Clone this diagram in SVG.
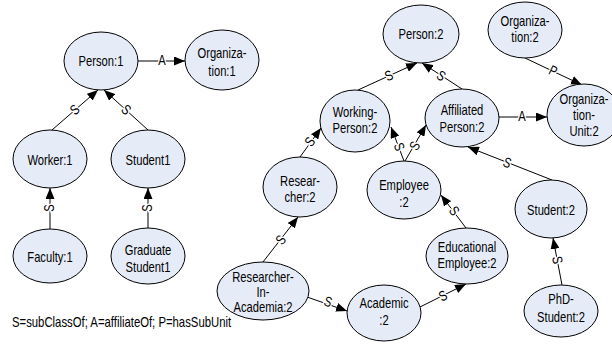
<svg xmlns="http://www.w3.org/2000/svg" width="612" height="345" viewBox="0 0 612 345">
<defs>
<marker id="arr" markerUnits="userSpaceOnUse" markerWidth="11" markerHeight="9" refX="11" refY="4.5" orient="auto"><path d="M0,0 L11,4.5 L0,9 z" fill="#000"/></marker>
<style>
.n ellipse{fill:#E6ECF7;stroke:#000;stroke-width:1}
.t{font-family:"Liberation Sans",Arial,sans-serif;font-size:14px;text-anchor:middle;fill:#000}
.e line{stroke:#000;stroke-width:1;marker-end:url(#arr)}
.l{font-family:"Liberation Sans",Arial,sans-serif;font-size:14px;text-anchor:middle;fill:#000;stroke:#fff;stroke-width:3;paint-order:stroke;dominant-baseline:central}
</style>
</defs>
<rect width="612" height="345" fill="#fff"/>
<g id="connectors" class="e">
<line x1="138" y1="61" x2="185" y2="61"/>
<line x1="52" y1="130" x2="98" y2="90"/>
<line x1="148" y1="130" x2="104" y2="90"/>
<line x1="50" y1="229" x2="50" y2="188"/>
<line x1="148" y1="228" x2="148" y2="188"/>
<line x1="358" y1="90" x2="417" y2="63"/>
<line x1="462" y1="89" x2="422" y2="63"/>
<line x1="525" y1="58" x2="582" y2="85"/>
<line x1="499" y1="117" x2="547" y2="117"/>
<line x1="404" y1="161" x2="391" y2="127"/>
<line x1="405" y1="161" x2="426" y2="125"/>
<line x1="300" y1="157" x2="321" y2="128"/>
<line x1="263" y1="262" x2="298" y2="217"/>
<line x1="307" y1="297" x2="347" y2="311"/>
<line x1="420" y1="307" x2="466" y2="284"/>
<line x1="466" y1="228" x2="441" y2="195"/>
<line x1="552" y1="180" x2="468" y2="147"/>
<line x1="562" y1="285" x2="553" y2="238"/>
<g id="connector-labels">
<text class="l" transform="translate(162,61) scale(0.8,1)">A</text>
<text class="l" transform="translate(75,110) rotate(-41) scale(0.8,1)">S</text>
<text class="l" transform="translate(126,110) rotate(42) scale(0.8,1)">S</text>
<text class="l" transform="translate(50,208) rotate(-90) scale(0.8,1)">S</text>
<text class="l" transform="translate(148,208) rotate(-90) scale(0.8,1)">S</text>
<text class="l" transform="translate(389,76) rotate(-25) scale(0.8,1)">S</text>
<text class="l" transform="translate(441,76) rotate(33) scale(0.8,1)">S</text>
<text class="l" transform="translate(553,71) rotate(25) scale(0.8,1)">P</text>
<text class="l" transform="translate(522,117) scale(0.8,1)">A</text>
<text class="l" transform="translate(399,147) rotate(69) scale(0.8,1)">S</text>
<text class="l" transform="translate(415,146) rotate(-60) scale(0.8,1)">S</text>
<text class="l" transform="translate(310,142) rotate(-54) scale(0.8,1)">S</text>
<text class="l" transform="translate(281,240) rotate(-52) scale(0.8,1)">S</text>
<text class="l" transform="translate(328,302) rotate(19) scale(0.8,1)">S</text>
<text class="l" transform="translate(443,296) rotate(-27) scale(0.8,1)">S</text>
<text class="l" transform="translate(454,211) rotate(53) scale(0.8,1)">S</text>
<text class="l" transform="translate(507,163) rotate(22) scale(0.8,1)">S</text>
<text class="l" transform="translate(557,260) rotate(79) scale(0.8,1)">S</text>
</g>
</g>
<g id="person1" class="n"><ellipse cx="101" cy="61" rx="37" ry="29"/><text class="t" transform="translate(101,66) scale(0.8,1)">Person:1</text></g>
<g id="organization1" class="n"><ellipse cx="222" cy="60" rx="37" ry="30"/><text class="t" transform="translate(222,58) scale(0.8,1)"><tspan x="0" y="0">Organiza-</tspan><tspan x="0" y="18">tion:1</tspan></text></g>
<g id="worker1" class="n"><ellipse cx="50" cy="159" rx="37" ry="29"/><text class="t" transform="translate(50,164.5) scale(0.8,1)">Worker:1</text></g>
<g id="student1" class="n"><ellipse cx="148" cy="159" rx="37" ry="29"/><text class="t" transform="translate(148,164.5) scale(0.8,1)">Student1</text></g>
<g id="faculty1" class="n"><ellipse cx="50" cy="256" rx="37" ry="27"/><text class="t" transform="translate(50,261.5) scale(0.8,1)">Faculty:1</text></g>
<g id="graduatestudent1" class="n"><ellipse cx="148" cy="256" rx="37" ry="28"/><text class="t" transform="translate(148,255) scale(0.8,1)"><tspan x="0" y="0">Graduate</tspan><tspan x="0" y="17">Student1</tspan></text></g>
<g id="person2" class="n"><ellipse cx="421" cy="34" rx="38" ry="29"/><text class="t" transform="translate(421,39) scale(0.8,1)">Person:2</text></g>
<g id="organization2" class="n"><ellipse cx="525" cy="30" rx="37" ry="28"/><text class="t" transform="translate(525,26) scale(0.8,1)"><tspan x="0" y="0">Organiza-</tspan><tspan x="0" y="16">tion:2</tspan></text></g>
<g id="organizationunit2" class="n"><ellipse cx="584" cy="115" rx="37" ry="31"/><text class="t" transform="translate(584,104) scale(0.8,1)"><tspan x="0" y="0">Organiza-</tspan><tspan x="0" y="16">tion-</tspan><tspan x="0" y="32">Unit:2</tspan></text></g>
<g id="affiliatedperson2" class="n"><ellipse cx="462" cy="118" rx="37" ry="29"/><text class="t" transform="translate(462,115) scale(0.8,1)"><tspan x="0" y="0">Affiliated</tspan><tspan x="0" y="17">Person:2</tspan></text></g>
<g id="workingperson2" class="n"><ellipse cx="355" cy="121" rx="35" ry="31"/><text class="t" transform="translate(355,117) scale(0.8,1)"><tspan x="0" y="0">Working-</tspan><tspan x="0" y="16">Person:2</tspan></text></g>
<g id="researcher2" class="n"><ellipse cx="300" cy="187" rx="37" ry="30"/><text class="t" transform="translate(300,186) scale(0.8,1)"><tspan x="0" y="0">Resear-</tspan><tspan x="0" y="16">cher:2</tspan></text></g>
<g id="employee2" class="n"><ellipse cx="404" cy="190" rx="37" ry="29"/><text class="t" transform="translate(404,190) scale(0.8,1)"><tspan x="0" y="0">Employee</tspan><tspan x="0" y="17">:2</tspan></text></g>
<g id="educationalemployee2" class="n"><ellipse cx="467" cy="256" rx="41" ry="28"/><text class="t" transform="translate(467,252) scale(0.8,1)"><tspan x="0" y="0">Educational</tspan><tspan x="0" y="16">Employee:2</tspan></text></g>
<g id="student2" class="n"><ellipse cx="551" cy="209" rx="36" ry="29"/><text class="t" transform="translate(551,214.5) scale(0.8,1)">Student:2</text></g>
<g id="phdstudent2" class="n"><ellipse cx="561" cy="311" rx="37" ry="26"/><text class="t" transform="translate(561,304) scale(0.8,1)"><tspan x="0" y="0">PhD-</tspan><tspan x="0" y="18">Student:2</tspan></text></g>
<g id="researcherinacademia2" class="n"><ellipse cx="263" cy="291" rx="46" ry="29"/><text class="t" transform="translate(263,282) scale(0.8,1)"><tspan x="0" y="0">Researcher-</tspan><tspan x="0" y="15">In-</tspan><tspan x="0" y="30">Academia:2</tspan></text></g>
<g id="academic2" class="n"><ellipse cx="384" cy="313" rx="37" ry="28"/><text class="t" transform="translate(384,308) scale(0.8,1)"><tspan x="0" y="0">Academic</tspan><tspan x="0" y="17">:2</tspan></text></g>
<text id="legend" class="t" style="text-anchor:start" transform="translate(12,327) scale(0.81,1)">S=subClassOf; A=affiliateOf; P=hasSubUnit</text>
</svg>
